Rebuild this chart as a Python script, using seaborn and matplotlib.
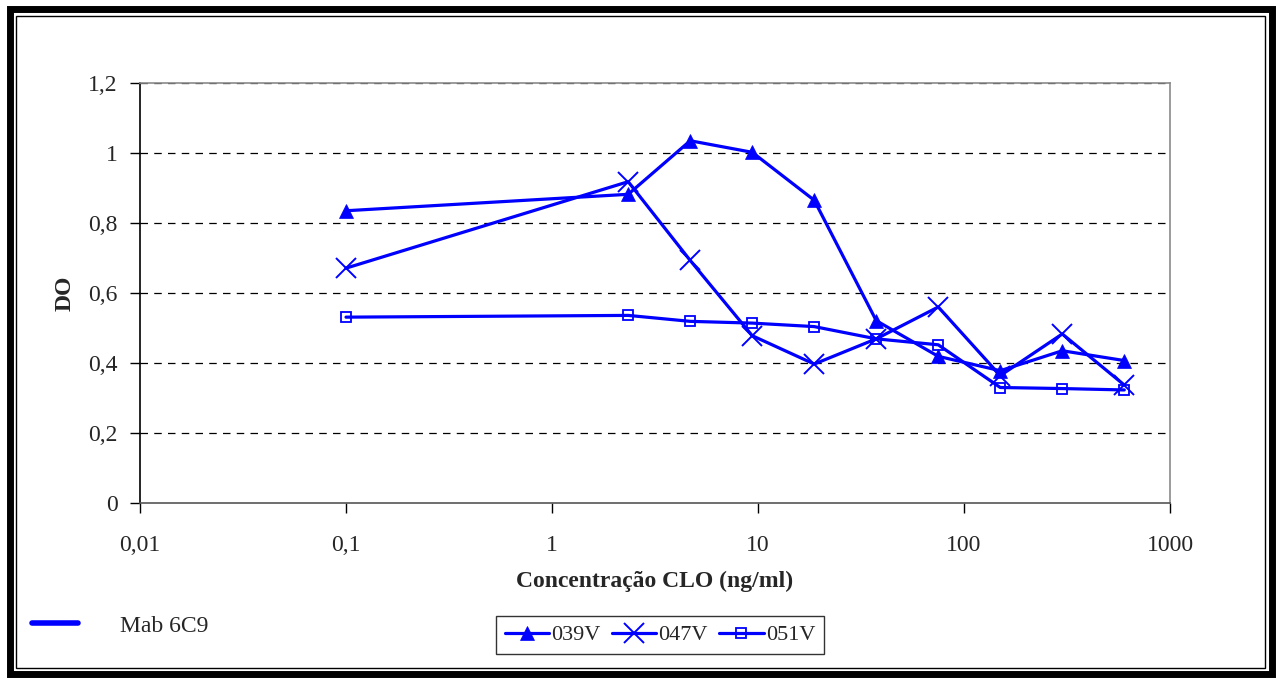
import matplotlib
matplotlib.use("Agg")
import matplotlib.pyplot as plt
import seaborn as sns
import pandas as pd
import numpy as np
from matplotlib.patches import Rectangle
from matplotlib.lines import Line2D
from matplotlib.ticker import FixedLocator, FixedFormatter, NullLocator

# ---- data ----
conc = [0.1, 2.34375, 4.6875, 9.375, 18.75, 37.5, 75, 150, 300, 600]
s039V = [0.835, 0.882, 1.035, 1.002, 0.865, 0.521, 0.419, 0.378, 0.435, 0.407]
s047V = [0.671, 0.918, 0.693, 0.478, 0.397, 0.469, 0.560, 0.364, 0.483, 0.337]
s051V = [0.531, 0.536, 0.519, 0.514, 0.504, 0.469, 0.452, 0.330, 0.327, 0.323]
series_names = ["039V", "047V", "051V"]
x_ticks = [0.01, 0.1, 1, 10, 100, 1000]
x_ticklabels = ["0,01", "0,1", "1", "10", "100", "1000"]
y_ticks = [0, 0.2, 0.4, 0.6, 0.8, 1.0, 1.2]
y_ticklabels = ["0", "0,2", "0,4", "0,6", "0,8", "1", "1,2"]

df = pd.DataFrame({
    "conc": conc * 3,
    "DO": s039V + s047V + s051V,
    "serie": sum([[n] * len(conc) for n in series_names], []),
})

sns.set_style("white")
plt.rcParams["font.family"] = ["Liberation Serif", "DejaVu Serif"]

fig = plt.figure(figsize=(12.81, 6.83), dpi=100)
ax = fig.add_axes([140 / 1281, 1 - 503 / 683, (1170 - 140) / 1281, (503 - 83) / 683])

blue = "#0000FF"
markers = {"039V": "^", "047V": "x", "051V": "s"}
msize = {"039V": 10, "047V": 15, "051V": 7}
for name in series_names:
    sub = df[df["serie"] == name]
    kw = dict(marker=markers[name], markersize=msize[name], color=blue, linewidth=2.3,
              markeredgecolor=blue)
    if name == "051V":
        kw.update(markerfacecolor="none", markeredgewidth=1.3)
    elif name == "047V":
        kw.update(markeredgewidth=1.4)
    else:
        kw.update(markerfacecolor=blue, markeredgewidth=0.5)
    sns.lineplot(data=sub, x="conc", y="DO", ax=ax, label=name, **kw)

ax.set_xscale("log")
ax.set_xlim(0.01, 1000)
ax.set_ylim(0, 1.2)
ax.xaxis.set_major_locator(FixedLocator(x_ticks))
ax.xaxis.set_major_formatter(FixedFormatter(x_ticklabels))
ax.xaxis.set_minor_locator(NullLocator())
ax.set_yticks(y_ticks)
ax.set_yticklabels(y_ticklabels)
ax.tick_params(axis="both", labelsize=17, length=7, width=1, direction="out",
               color="black", bottom=True, left=True)
ax.tick_params(axis="x", pad=16)
ax.tick_params(axis="y", pad=9)
for y in y_ticks[1:]:
    ax.axhline(y, color="black", linestyle=(0, (6, 5)), linewidth=0.9, zorder=0)

for side in ["top", "right"]:
    ax.spines[side].set_color("#8a8a8a")
    ax.spines[side].set_linewidth(1.2)
ax.spines["left"].set_color("black")
ax.spines["bottom"].set_color("#555555")
for side in ["left", "bottom"]:
    ax.spines[side].set_linewidth(1.2)

ax.set_xlabel("Concentração CLO (ng/ml)", fontsize=17, fontweight="bold", labelpad=11)
ax.set_ylabel("DO", fontsize=17, fontweight="bold", labelpad=9)

leg = ax.legend(loc="center", bbox_to_anchor=(660 / 1281, 1 - 635 / 683),
                bbox_transform=fig.transFigure, ncol=3, frameon=True, fancybox=False,
                fontsize=16, handlelength=2.0, handletextpad=0.1, columnspacing=0.5,
                borderpad=0.4, edgecolor="black")
leg.get_frame().set_linewidth(1.0)

# left annotation
fig.add_artist(Line2D([32 / 1281, 78 / 1281], [1 - 623 / 683, 1 - 623 / 683],
                      color=blue, linewidth=4, transform=fig.transFigure))
fig.text(120 / 1281, 1 - 626 / 683, "Mab 6C9", fontsize=17, va="center", ha="left")

# frame
fig.add_artist(Rectangle((9.5 / 1281, 9 / 683), 1 - 19 / 1281, 1 - 18 / 683,
                         fill=False, edgecolor="black", linewidth=5,
                         transform=fig.transFigure))
fig.add_artist(Rectangle((16 / 1281, 15.5 / 683), 1 - 32 / 1281, 1 - 31 / 683,
                         fill=False, edgecolor="black", linewidth=1,
                         transform=fig.transFigure))

fig.savefig("out.png", dpi=100)
